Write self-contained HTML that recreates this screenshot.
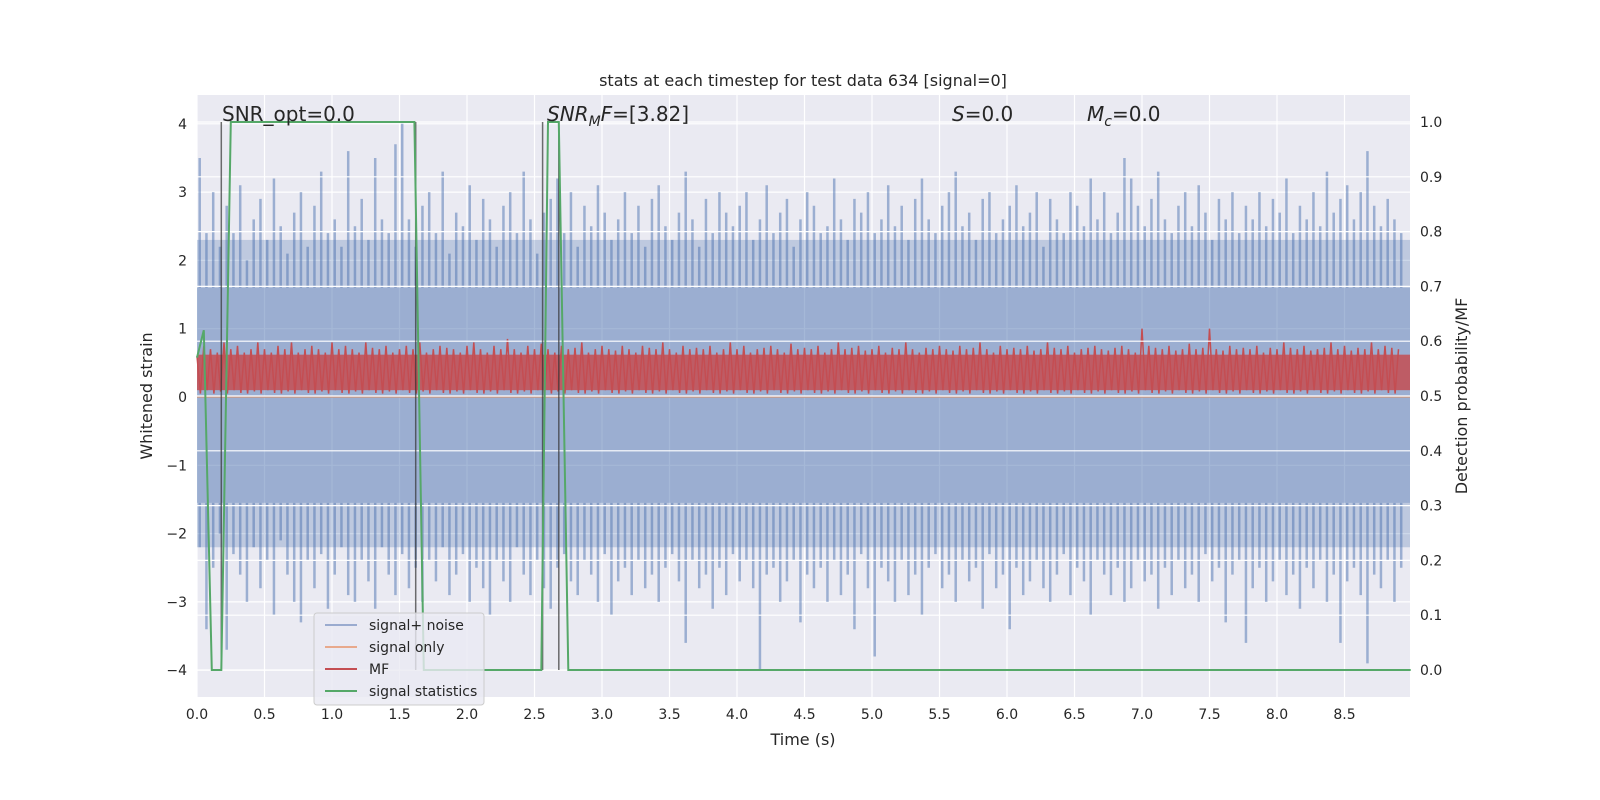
<!DOCTYPE html>
<html><head><meta charset="utf-8">
<style>
html,body{margin:0;padding:0;background:#fff;overflow:hidden;width:1600px;height:800px;}
svg{display:block;}
svg text{font-family:"DejaVu Sans","Liberation Sans",sans-serif;fill:#262626;}
</style></head>
<body>
<svg id="chart" width="1600" height="800" viewBox="0 0 1600 800" xmlns="http://www.w3.org/2000/svg">
<rect x="197" y="95" width="1213" height="602" fill="#eaeaf2"/>
<g id="grid1"></g>
<g id="noise"></g>
<g id="mf"></g>
<g id="grid2"></g>
<g id="vlines"></g>
<g id="stat"></g>
<g id="axes"></g>
<text x="803" y="86" font-size="16" text-anchor="middle">stats at each timestep for test data 634 [signal=0]</text>
<text x="803" y="745" font-size="16" text-anchor="middle">Time (s)</text>
<text transform="translate(152,396) rotate(-90)" font-size="16" text-anchor="middle">Whitened strain</text>
<text transform="translate(1467,396) rotate(-90)" font-size="16" text-anchor="middle">Detection probability/MF</text>
<text x="222" y="121" font-size="20">SNR_opt=0.0</text>
<text x="547" y="121" font-size="20"><tspan font-style="italic">SNR</tspan><tspan font-style="italic" font-size="14" dy="5">M</tspan><tspan font-style="italic" dy="-5">F</tspan>=[3.82]</text>
<text x="952" y="121" font-size="20"><tspan font-style="italic">S</tspan>=0.0</text>
<text x="1087" y="121" font-size="20"><tspan font-style="italic">M</tspan><tspan font-style="italic" font-size="14" dy="5">c</tspan><tspan dy="-5">=0.0</tspan></text>
<g>
<rect x="314" y="613" width="170" height="92" rx="3" fill="#eaeaf2" fill-opacity="0.8" stroke="#cccccc"/>
<line x1="325" y1="625" x2="357" y2="625" stroke="#9aabcf" stroke-width="2"/>
<text x="369" y="630" font-size="14">signal+ noise</text>
<line x1="325" y1="647" x2="357" y2="647" stroke="#e8a98c" stroke-width="2"/>
<text x="369" y="652" font-size="14">signal only</text>
<line x1="325" y1="669" x2="357" y2="669" stroke="#c44e52" stroke-width="2"/>
<text x="369" y="674" font-size="14">MF</text>
<line x1="325" y1="691" x2="357" y2="691" stroke="#55a868" stroke-width="2"/>
<text x="369" y="696" font-size="14">signal statistics</text>
</g>
</svg>
<script>
const xTicks=[0,0.5,1,1.5,2,2.5,3,3.5,4,4.5,5,5.5,6,6.5,7,7.5,8,8.5];
const yTicks=[-4,-3,-2,-1,0,1,2,3,4];
const y2Ticks=[0,0.1,0.2,0.3,0.4,0.5,0.6,0.7,0.8,0.9,1.0];
const noiseCore=[1.6,-1.55];
const noiseFringe=[2.3,-2.2];
const noiseHi=[3.5,2.4,3.0,2.2,2.8,2.4,3.1,2.0,2.6,2.9,2.3,3.2,2.5,2.1,2.7,3.0,2.2,2.8,3.3,2.4,2.6,2.2,3.6,2.5,2.9,2.3,3.5,2.6,2.4,3.7,4.0,2.6,2.2,2.8,3.0,2.4,3.3,2.1,2.7,2.5,3.1,2.3,2.9,2.6,2.2,2.8,3.0,2.4,3.3,2.6,2.1,2.7,2.9,3.2,2.4,3.0,2.2,2.8,2.5,3.1,2.7,2.3,2.6,3.0,2.4,2.8,2.2,2.9,3.1,2.5,2.3,2.7,3.3,2.6,2.2,2.9,2.4,3.0,2.7,2.5,2.8,3.0,2.3,2.6,3.1,2.4,2.7,2.9,2.2,2.6,3.0,2.8,2.4,2.5,3.2,2.6,2.3,2.9,2.7,3.0,2.4,2.6,3.1,2.5,2.8,2.3,2.9,3.2,2.6,2.4,2.8,3.0,3.3,2.5,2.7,2.3,2.9,3.0,2.4,2.6,2.8,3.1,2.5,2.7,3.0,2.2,2.9,2.6,2.4,3.0,2.8,2.5,3.2,2.6,3.0,2.4,2.7,3.5,3.2,2.8,2.5,2.9,3.3,2.6,2.4,2.8,3.0,2.5,3.1,2.7,2.3,2.9,2.6,3.0,2.4,2.8,2.6,3.0,2.5,2.9,2.7,3.2,2.4,2.8,2.6,3.0,2.5,3.3,2.7,2.9,3.1,2.6,3.0,3.6,2.8,2.5,2.9,2.6,2.4];
const noiseLo=[-2.2,-3.4,-2.5,-2.0,-3.7,-2.3,-2.6,-3.0,-2.2,-2.8,-2.4,-3.2,-2.1,-2.6,-3.0,-3.3,-2.4,-2.8,-2.3,-3.1,-2.6,-2.2,-2.9,-3.0,-2.4,-2.7,-3.1,-2.2,-2.6,-2.9,-2.3,-2.8,-2.5,-3.0,-2.4,-2.7,-2.2,-2.9,-2.6,-2.3,-3.0,-2.5,-2.8,-3.2,-2.4,-2.7,-3.0,-2.2,-2.6,-2.9,-2.4,-2.8,-3.1,-2.5,-2.3,-2.7,-2.9,-2.4,-2.6,-3.0,-2.3,-3.2,-2.7,-2.5,-2.9,-2.4,-2.8,-2.6,-3.0,-2.5,-2.3,-2.7,-3.6,-2.4,-2.8,-2.6,-3.1,-2.5,-2.9,-2.3,-2.7,-2.4,-2.8,-4.0,-2.6,-2.5,-3.0,-2.7,-2.4,-3.3,-2.6,-2.8,-2.5,-3.0,-2.4,-2.9,-2.6,-3.4,-2.3,-2.8,-3.8,-2.5,-2.7,-3.0,-2.4,-2.9,-2.6,-3.2,-2.5,-2.3,-2.8,-2.6,-3.0,-2.4,-2.7,-2.5,-3.1,-2.3,-2.8,-2.6,-3.4,-2.5,-2.9,-2.7,-2.4,-2.8,-3.0,-2.6,-2.3,-2.9,-2.5,-2.7,-3.2,-2.4,-2.6,-2.9,-2.5,-3.0,-2.8,-2.4,-2.7,-2.6,-3.1,-2.5,-2.9,-2.4,-2.8,-2.6,-3.0,-2.3,-2.7,-2.5,-3.3,-2.6,-2.4,-3.6,-2.8,-2.5,-3.0,-2.7,-2.4,-2.9,-2.6,-3.1,-2.5,-2.8,-2.4,-3.0,-2.6,-3.6,-2.7,-2.5,-2.9,-3.9,-2.6,-2.8,-2.4,-3.0,-2.5,-2.7,-2.6];
const mfHi=[0.6,0.75,0.7,0.65,0.8,0.7,0.75,0.65,0.7,0.8,0.7,0.65,0.75,0.7,0.8,0.65,0.7,0.75,0.7,0.65,0.8,0.7,0.75,0.7,0.65,0.8,0.72,0.7,0.75,0.65,0.7,0.75,0.7,0.8,0.65,0.7,0.75,0.72,0.7,0.65,0.75,0.8,0.7,0.65,0.75,0.7,0.85,0.7,0.65,0.75,0.7,0.78,0.7,0.65,0.75,0.7,0.72,0.8,0.65,0.7,0.75,0.7,0.68,0.75,0.7,0.65,0.75,0.72,0.7,0.8,0.7,0.65,0.75,0.7,0.72,0.7,0.75,0.65,0.7,0.8,0.7,0.75,0.65,0.7,0.72,0.75,0.7,0.65,0.78,0.7,0.72,0.7,0.75,0.65,0.7,0.8,0.7,0.72,0.75,0.68,0.7,0.75,0.65,0.72,0.7,0.8,0.7,0.65,0.72,0.7,0.75,0.7,0.68,0.75,0.7,0.72,0.8,0.7,0.65,0.75,0.7,0.72,0.7,0.75,0.68,0.7,0.8,0.72,0.7,0.75,0.65,0.7,0.72,0.75,0.7,0.68,0.72,0.75,0.7,0.65,1.0,0.75,0.72,0.7,0.75,0.68,0.7,0.78,0.7,0.72,1.0,0.7,0.68,0.75,0.7,0.72,0.7,0.75,0.65,0.72,0.7,0.8,0.72,0.7,0.75,0.68,0.7,0.72,0.8,0.7,0.75,0.68,0.72,0.7,0.8,0.7,0.75,0.72,0.7,0.68,0.75,0.72];
const mfLo=[0.05,0.1,0.05,0.08,0.05,0.1,0.06,0.05,0.08,0.05,0.1,0.06,0.05,0.08,0.05,0.1,0.06,0.05,0.08,0.05,0.1,0.06,0.05,0.08,0.05,0.1,0.06,0.05,0.08,0.05,0.1,0.06,0.05,0.08,0.05,0.1,0.06,0.05,0.08,0.05,0.1,0.06,0.05,0.08,0.05,0.1,0.06,0.05,0.08,0.05,0.1,0.06,0.05,0.08,0.05,0.1,0.06,0.05,0.08,0.05,0.1,0.06,0.05,0.08,0.05,0.1,0.06,0.05,0.08,0.05,0.1,0.06,0.05,0.08,0.05,0.1,0.06,0.05,0.08,0.05,0.1,0.06,0.05,0.08,0.05,0.1,0.06,0.05,0.08,0.05,0.1,0.06,0.05,0.08,0.05,0.1,0.06,0.05,0.08,0.05,0.1,0.06,0.05,0.08,0.05,0.1,0.06,0.05,0.08,0.05,0.1,0.06,0.05,0.08,0.05,0.1,0.06,0.05,0.08,0.05,0.1,0.06,0.05,0.08,0.05,0.1,0.06,0.05,0.08,0.05,0.1,0.06,0.05,0.08,0.05,0.1,0.06,0.05,0.08,0.05,0.1,0.06,0.05,0.08,0.05,0.1,0.06,0.05,0.08,0.05,0.1,0.06,0.05,0.08,0.05,0.1,0.06,0.05,0.08,0.05,0.1,0.06,0.05,0.08,0.05,0.1,0.06,0.05,0.08,0.05,0.1,0.06,0.05,0.08,0.05,0.1,0.06,0.05];
const statT=[0,0.05,0.11,0.18,0.25,1.55,1.61,1.68,2.55,2.6,2.68,2.75,8.99];
const statV=[0.57,0.62,0,0,1,1,1,0,0,1,1,0,0];
const markerT=[0.18,1.62,2.56,2.68];
const sampleDt=0.05;

const NS='http://www.w3.org/2000/svg';
const L=197,R=1410,T=95,B=697;
const xs=t=>197+t*135;
const ys=v=>397-v*68.3;
const y2s=p=>670-p*548;
function mk(tag,attrs,parent){const e=document.createElementNS(NS,tag);for(const k in attrs)e.setAttribute(k,attrs[k]);parent.appendChild(e);return e;}
const g1=document.getElementById('grid1'),g2=document.getElementById('grid2'),ax=document.getElementById('axes');
xTicks.forEach(t=>{
  const l=mk('line',{x1:xs(t),x2:xs(t),y1:T,y2:B,stroke:'#fff','stroke-width':1.2},g1);
  
  
  const tx=mk('text',{x:xs(t),y:B+22,'font-size':14,'text-anchor':'middle'},ax);
  tx.textContent=t.toFixed(1);
  
  
});
yTicks.forEach(v=>{
  const l=mk('line',{x1:L,x2:R,y1:ys(v),y2:ys(v),stroke:'#fff','stroke-width':1.2},g1);
  
  
  const tx=mk('text',{x:L-10,y:ys(v)+5,'font-size':14,'text-anchor':'end'},ax);
  tx.textContent=v<0?'\u2212'+Math.abs(v):String(v);
  
  
});
y2Ticks.forEach(p=>{
  const l=mk('line',{x1:L,x2:R,y1:y2s(p),y2:y2s(p),stroke:'#fff','stroke-width':1.2},g2);
  
  
  const tx=mk('text',{x:R+10,y:y2s(p)+5,'font-size':14,'text-anchor':'start'},ax);
  tx.textContent=p.toFixed(1);
  
  
});
const ng=document.getElementById('noise');
const fr1=mk('rect',{x:L,y:ys(noiseFringe[0]),width:R-L,height:ys(noiseCore[0])-ys(noiseFringe[0]),fill:'#4c72b0','fill-opacity':0.28},ng);


const fr2=mk('rect',{x:L,y:ys(noiseCore[1]),width:R-L,height:ys(noiseFringe[1])-ys(noiseCore[1]),fill:'#4c72b0','fill-opacity':0.28},ng);


const band=mk('rect',{x:L,y:ys(noiseCore[0]),width:R-L,height:ys(noiseCore[1])-ys(noiseCore[0]),fill:'#4c72b0','fill-opacity':0.5},ng);


let d='';
noiseHi.forEach((h,i)=>{const x=xs(i*sampleDt+0.02);d+=`M${x} ${ys(h)}L${x} ${ys(noiseCore[0])}M${x} ${ys(noiseCore[1])}L${x} ${ys(noiseLo[i])}`;});
const np=mk('path',{d:d,stroke:'#4c72b0','stroke-opacity':0.5,'stroke-width':2.5,fill:'none'},ng);


const sig=mk('line',{x1:L,x2:R,y1:ys(0),y2:ys(0),stroke:'#dd8452','stroke-opacity':0.6,'stroke-width':1.5},ng);


const mg=document.getElementById('mf');
let pts=[];
mfHi.forEach((h,i)=>{pts.push([xs(i*sampleDt),ys(h)]);pts.push([xs(i*sampleDt+sampleDt/2),ys(mfLo[i])]);});
let md='';
for(let i=0;i<pts.length;i++){md+=(i?'L':'M')+pts[i][0].toFixed(1)+' '+pts[i][1].toFixed(1);}
const mfp=mk('path',{d:md,stroke:'#c44e52','stroke-width':1.5,fill:'none'},mg);


const mfb=mk('rect',{x:L,y:ys(0.62),width:R-L,height:ys(0.1)-ys(0.62),fill:'#c44e52','fill-opacity':0.85},mg);


const vg=document.getElementById('vlines');
markerT.forEach(t=>{
  const l=mk('line',{x1:xs(t),x2:xs(t),y1:y2s(1),y2:y2s(0),stroke:'#333','stroke-opacity':0.7,'stroke-width':1.5},vg);
  
  
});
let sd='';
statT.forEach((t,i)=>{sd+=(i?'L':'M')+xs(t).toFixed(1)+' '+y2s(statV[i]).toFixed(1);});
const sp=mk('path',{d:sd,stroke:'#55a868','stroke-width':2,fill:'none'},document.getElementById('stat'));


</script>
</body></html>
